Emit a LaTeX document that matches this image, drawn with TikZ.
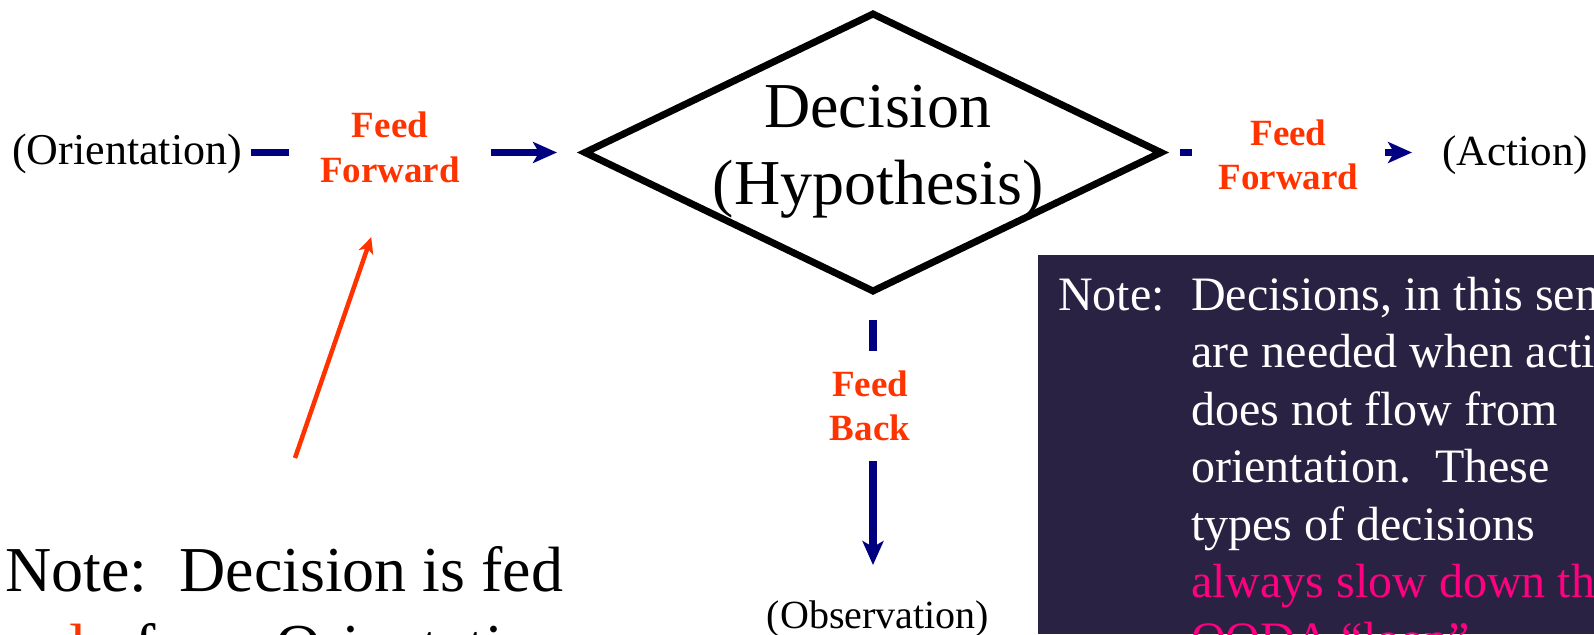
\documentclass[tikz,border=0pt]{standalone}
\usepackage{fontspec}
\setmainfont{Liberation Serif}
\usetikzlibrary{arrows.meta,shapes.geometric}
\definecolor{flownavy}{RGB}{0,0,128}
\definecolor{feedred}{RGB}{255,51,0}
\definecolor{panelbg}{RGB}{41,34,66}
\definecolor{alertpink}{RGB}{255,0,128}
\frenchspacing
\begin{document}
\begin{tikzpicture}[x=1pt,y=-1pt,
  stage/.style={font=\fontsize{43}{50}\selectfont, inner sep=0pt, anchor=base west},
  feedlabel/.style={font=\fontsize{37}{44.4}\selectfont\bfseries, text=feedred, align=center, inner sep=0pt},
  flow/.style={draw=flownavy, line width=7.5pt},
  flowtip/.style={flow, -{Stealth[length=24pt,width=21pt,inset=6pt]}},
  bignote/.style={font=\fontsize{64}{77}\selectfont, inner sep=0pt, anchor=base west},
  paneltext/.style={font=\fontsize{48}{57.5}\selectfont, text=white, inner sep=0pt, anchor=base west},
  callout/.style={draw=feedred, line width=4.5pt, -{Stealth[length=16pt,width=15pt,inset=4pt]}},
]
\useasboundingbox (0,0) rectangle (1594,634);
\clip (0,0) rectangle (1594,634);

% decision diamond
\node[diamond, draw, line width=7pt, minimum width=576pt, minimum height=277pt,
      inner sep=0pt, outer sep=0pt] (dec) at (873,152.5) {};
\node[font=\fontsize{64}{77}\selectfont, align=center, inner sep=0pt] (dectext)
      at (878,151.5) {Decision\\(Hypothesis)};

% stages of the loop
\node[stage, font=\fontsize{44}{50}\selectfont] (orient) at (12,164) {(Orientation)};
\node[stage] (act) at (1442,165) {(Action)};
\node[stage, anchor=base, font=\fontsize{40}{48}\selectfont] (obs) at (878,628) {(Observation)};

% feed labels
\node[feedlabel, minimum width=202pt] (ffL) at (390,147.4) {Feed\\Forward};
\node[feedlabel, minimum width=193pt] (ffR) at (1288.5,154.9) {Feed\\Forward};
\node[feedlabel, minimum height=110pt] (ffB) at (870,406) {Feed\\Back};

% flow connectors
\draw[flow, shorten <=9pt] (orient.east |- dec.west) -- (ffL.west |- dec.west);
\draw[flowtip, shorten >=28pt] (ffL.east |- dec.west) -- (dec.west);
\draw[flow, shorten <=19pt] (dec.east) -- (ffR.west |- dec.east);
\draw[flowtip, shorten >=30pt] (ffR.east |- dec.east) -- (act.west |- dec.east);
\draw[flow, shorten <=29pt] (dec.south) -- (dec.south |- ffB.north);
\draw[flowtip, shorten >=35pt] (dec.south |- ffB.south) -- (dec.south |- obs.north);

% note on the left
\node[bignote] (fedl1) at (5,591) {Note:\ \ Decision is fed};
\node[bignote] (fedl2) at (5,668) {\textcolor{feedred}{only} from Orientation};
\coordinate (calloutfoot) at (295,458);
\draw[callout, shorten >=57.5pt] (calloutfoot) -- (ffL.south);

% dark note panel
\fill[panelbg] (1038,255) rectangle (1594,634);
\node[paneltext] (pnote) at (1058,310) {Note:};
\node[paneltext] (pl1) at (1191,310) {Decisions, in this sense,};
\node[paneltext] (pl2) at (1191,367.5) {are needed when action};
\node[paneltext] (pl3) at (1191,425) {does not flow from};
\node[paneltext] (pl4) at (1191,482.5) {orientation.\ \ These};
\node[paneltext] (pl5) at (1191,540) {types of decisions};
\node[paneltext, text=alertpink] (pl6) at (1191,597.5) {always slow down the};
\node[paneltext, text=alertpink] (pl7) at (1191,655) {OODA “loop”};
\end{tikzpicture}
\end{document}
